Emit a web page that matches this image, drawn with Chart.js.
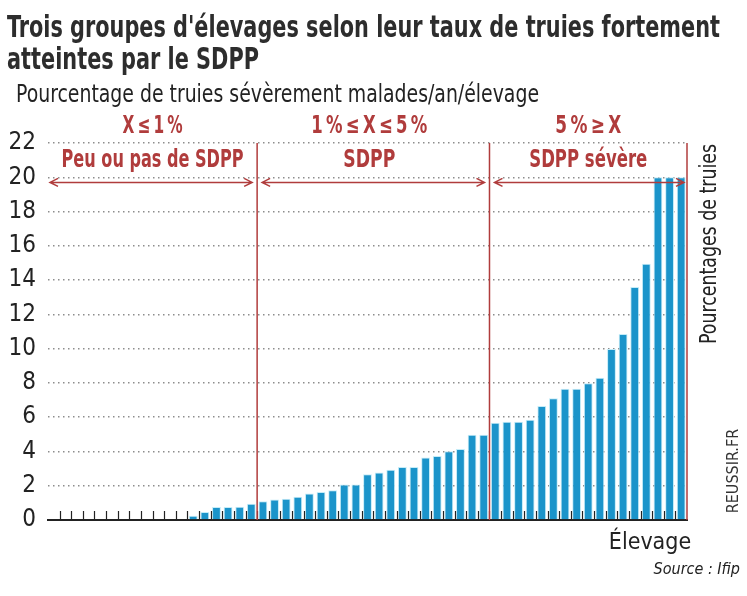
<!DOCTYPE html>
<html>
<head>
<meta charset="utf-8">
<script src="https://cdn.jsdelivr.net/npm/chart.js@4.4.1/dist/chart.umd.min.js"></script>
<style>
  html, body { margin: 0; padding: 0; background: #fff; }
  #wrap { width: 747px; height: 596px; position: relative; }
</style>
</head>
<body>
<div id="wrap"><canvas id="chart_sdpp"></canvas></div>
<script>
// one category per farm, sorted by rate
const farms = Array.from({ length: 55 }, (_, i) => "E" + (i + 1));
// % of sows severely sick / year / farm (first 12 farms = 0)
const rates = [
    0, 0, 0, 0, 0, 0, 0, 0, 0, 0, 0, 0,
    0.25, 0.47, 0.76, 0.76, 0.77, 0.95,
    1.1, 1.2, 1.24, 1.35, 1.55, 1.63, 1.74, 2.07, 2.07, 2.67,
    2.77, 2.93, 3.1, 3.1, 3.64, 3.74, 4.01, 4.15, 4.98, 4.98,
    5.68, 5.74, 5.74, 5.85, 6.65, 7.11, 7.66, 7.66, 7.98, 8.3,
    9.98, 10.85, 13.6, 14.96, 20, 20, 20
];
const yTicks = [0, 2, 4, 6, 8, 10, 12, 14, 16, 18, 20, 22];
// groups: index of last farm in each group
const groupEnds = [17, 37, 54];
const groupTop = ["X\u2009\u2264\u20091\u2009%", "1\u2009%\u2009\u2264\u2009X\u2009\u2264\u20095\u2009%", "5\u2009%\u2009\u2265\u2009X"];
const groupNames = ["Peu ou pas de SDPP", "SDPP", "SDPP s\u00e9v\u00e8re"];

const RED = "#b03c3c";
const NARROW = "'Liberation Sans Narrow', 'DejaVu Sans Condensed', Roboto, sans-serif";

function arrow(ctx, x1, x2, y) {
    ctx.beginPath();
    ctx.moveTo(x1, y); ctx.lineTo(x2, y);
    ctx.moveTo(x1 + 8, y - 4); ctx.lineTo(x1, y); ctx.lineTo(x1 + 8, y + 4);
    ctx.moveTo(x2 - 8, y - 4); ctx.lineTo(x2, y); ctx.lineTo(x2 - 8, y + 4);
    ctx.stroke();
}

const decor = {
    id: "decor",
    afterDatasetsDraw(chart) {
        const ctx = chart.ctx;
        const xs = chart.scales.x, ys = chart.scales.y;
        const area = chart.chartArea;
        const edge = i => (xs.getPixelForValue(i) + xs.getPixelForValue(i + 1)) / 2;
        ctx.save();
        // small tick marks between farms
        ctx.strokeStyle = "#222";
        ctx.lineWidth = 1.2;
        for (let i = 0; i < farms.length - 1; i++) {
            const x = Math.round(edge(i)) + 0.5;
            ctx.beginPath();
            ctx.moveTo(x, area.bottom);
            ctx.lineTo(x, area.bottom - 9);
            ctx.stroke();
        }
        // group separators
        ctx.strokeStyle = RED;
        ctx.lineWidth = 1.5;
        const seps = [edge(groupEnds[0]), edge(groupEnds[1]), area.right];
        seps.forEach(x => {
            ctx.beginPath();
            ctx.moveTo(x, area.top);
            ctx.lineTo(x, area.bottom);
            ctx.stroke();
        });
        // arrows + labels
        const starts = [area.left, seps[0], seps[1]];
        const topW = [60, 116, 66];
        const nameW = [182, 52, 118];
        const ay = ys.getPixelForValue(19.7);
        const ny = ys.getPixelForValue(21);
        ctx.fillStyle = RED;
        ctx.textAlign = "center";
        ctx.textBaseline = "middle";
        for (let g = 0; g < 3; g++) {
            const a = starts[g] + (g === 0 ? 2 : 5);
            const b = seps[g] - (g === 2 ? 3 : 5);
            arrow(ctx, a, b, ay);
            const cx = (starts[g] + seps[g]) / 2 + (g === 1 ? -4 : 0);
            ctx.font = "bold 24px " + NARROW;
            ctx.fillText(groupTop[g], cx, area.top - 16, topW[g]);
            ctx.font = "bold 25px " + NARROW;
            ctx.fillText(groupNames[g], cx, ny, nameW[g]);
        }
        ctx.restore();
    },
    afterDraw(chart) {
        const ctx = chart.ctx;
        ctx.save();
        ctx.textBaseline = "alphabetic";
        ctx.textAlign = "left";
        ctx.fillStyle = "#2d2d2d";
        ctx.font = "bold 30px " + NARROW;
        ctx.fillText("Trois groupes d'\u00e9levages selon leur taux de truies fortement", 7, 37, 713);
        ctx.fillText("atteintes par le SDPP", 7, 69, 252);
        ctx.fillStyle = "#222";
        ctx.font = "24px " + NARROW;
        ctx.fillText("Pourcentage de truies s\u00e9v\u00e8rement malades/an/\u00e9levage", 16, 102, 523);
        // x axis title
        ctx.textAlign = "center";
        ctx.font = "23px " + NARROW;
        ctx.fillText("\u00c9levage", 650, 549);
        ctx.textAlign = "right";
        ctx.font = "italic 16px " + NARROW;
        ctx.fillText("Source : Ifip", 740, 574);
        // right axis title
        ctx.save();
        ctx.translate(710, 244);
        ctx.rotate(-Math.PI / 2);
        ctx.textAlign = "center";
        ctx.textBaseline = "middle";
        ctx.font = "23px " + NARROW;
        ctx.fillText("Pourcentages de truies", 0, 0, 200);
        ctx.restore();
        ctx.save();
        ctx.translate(734, 471);
        ctx.rotate(-Math.PI / 2);
        ctx.textAlign = "center";
        ctx.textBaseline = "middle";
        ctx.fillStyle = "#333";
        ctx.font = "16px " + NARROW;
        ctx.fillText("REUSSIR.FR", 0, 0, 88);
        ctx.restore();
        ctx.restore();
    }
};

const data = {
    labels: farms,
    datasets: [
        {
            label: "Pourcentage de truies",
            data: rates,
            backgroundColor: "#1b94ca",
            borderColor: "#c4ecf8",
            borderWidth: 1,
            borderSkipped: "bottom",
            categoryPercentage: 1,
            barPercentage: 0.76,
        },
    ],
};

const config = {
    type: "bar",
    data: data,
    options: {
        responsive: true,
        maintainAspectRatio: false,
        animation: false,
        layout: {
            padding: { left: 0, right: 60, top: 143, bottom: 76 },
        },
        plugins: {
            legend: { display: false },
            tooltip: { enabled: false },
        },
        scales: {
            x: {
                grid: { display: false },
                ticks: { display: false },
                border: { display: true, color: "#222", width: 2 },
                afterFit: s => { s.height = 0; },
            },
            y: {
                min: 0,
                max: 22,
                afterBuildTicks: s => { s.ticks = yTicks.map(v => ({ value: v })); },
                afterFit: s => { s.width = 48; },
                border: { display: false, dash: [1.5, 3.5] },
                grid: {
                    drawTicks: false,
                    color: c => (c.tick && c.tick.value === 0 ? "rgba(0,0,0,0)" : "#8d8d8d"),
                    lineWidth: 1.5,
                },
                ticks: {
                    padding: 12,
                    color: "#222",
                    font: { family: NARROW, size: 24, weight: "500" },
                },
            },
        },
    },
    plugins: [decor],
};

const ctxSdpp = document.getElementById("chart_sdpp");
const sdppChart = new Chart(ctxSdpp, config);
</script>
</body>
</html>
